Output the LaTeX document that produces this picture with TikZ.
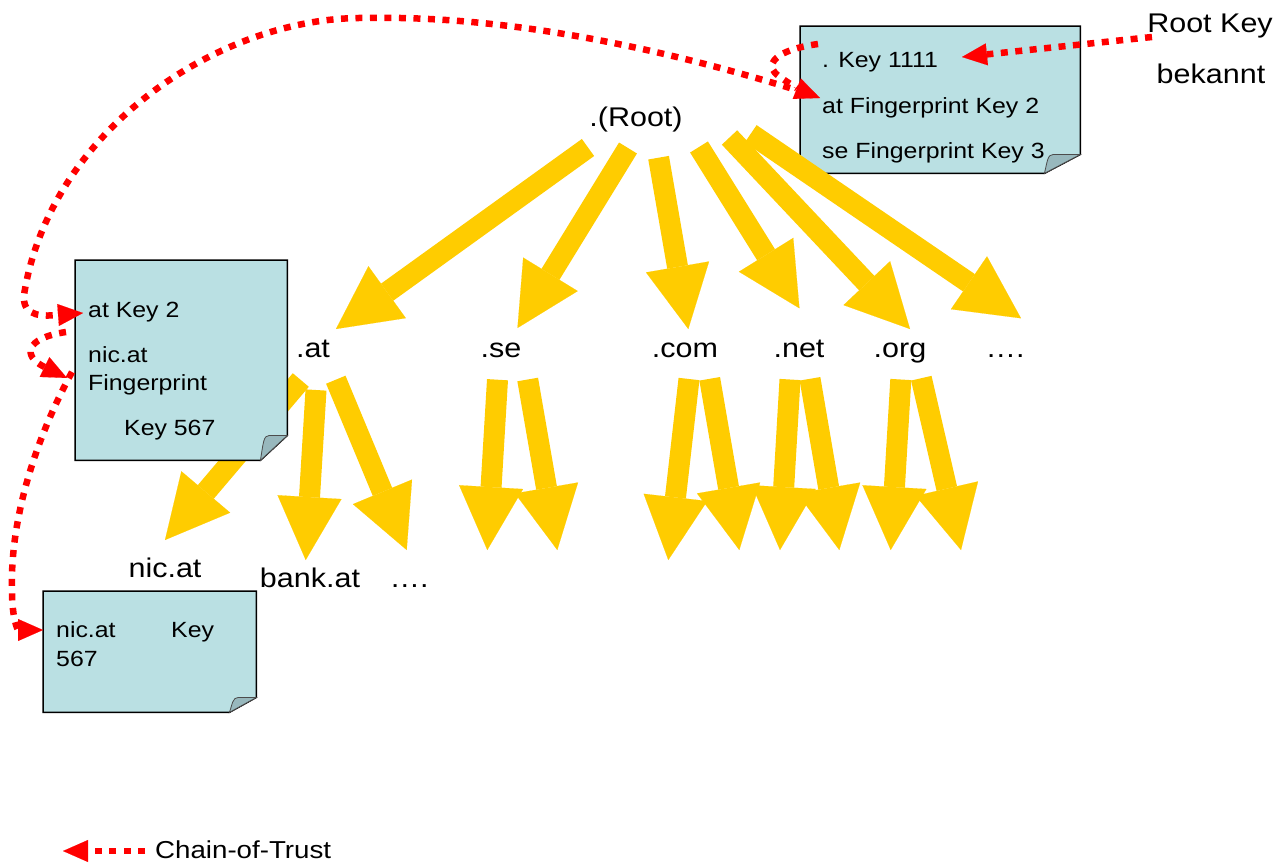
\documentclass[tikz,border=0pt]{standalone}
\usepackage{fontspec}
\setmainfont{Liberation Sans}[FakeStretch=1.13]
\usetikzlibrary{arrows.meta}
\definecolor{notefill}{HTML}{BAE0E3}
\definecolor{foldfill}{HTML}{98B8BD}
\definecolor{ygold}{HTML}{FFCC00}
\definecolor{cred}{HTML}{FF0000}
\newcommand{\notepaper}[3]{%
  \draw[noteshape] (#1.north west) -- (#1.north east) -- ([yshift=#3pt]#1.south east)
    -- ([xshift=-#2pt]#1.south east) -- (#1.south west) -- cycle;
  \draw[foldshape] ([xshift=-#2pt]#1.south east)
    .. controls ([xshift=-#2pt+3pt,yshift=#3pt-7pt]#1.south east) and ([xshift=-#2pt+3pt,yshift=#3pt]#1.south east)
    .. ([xshift=-#2pt+9pt,yshift=#3pt]#1.south east) -- ([yshift=#3pt]#1.south east) -- cycle;
}
\begin{document}
\begin{tikzpicture}[x=1pt,y=-1pt,
  big/.style={font=\fontsize{27}{32}\selectfont, inner sep=0pt, anchor=base},
  small/.style={font=\fontsize{22}{28}\selectfont, inner sep=0pt, anchor=base west},
  legendtxt/.style={font=\fontsize{24.5}{29}\selectfont, inner sep=0pt, anchor=base west},
  notearea/.style={inner sep=0pt, anchor=north west},
  noteshape/.style={fill=notefill, draw=black, line width=1.5pt, line join=miter},
  foldshape/.style={fill=foldfill, draw=black!70, line width=0.8pt},
  yarrow/.style={draw=ygold, line width=21pt, -{Triangle[length=63pt,width=64pt,line width=0.1pt]}},
  chain/.style={draw=cred, line width=6.5pt, dash pattern=on 7pt off 7.5pt, -{Triangle[length=25pt,width=22pt,line width=0.1pt]}},
]
\useasboundingbox[fill=white] (0,0) rectangle (1288,865);

% top-right note
\node[notearea, minimum width=280pt, minimum height=147pt] (box1) at (800,26) {};
\notepaper{box1}{36}{19}

% labels
\node[big] (root) at (636,126) {.(Root)};
\node[big] (rootkey) at (1210,32) {Root Key};
\node[big] (bekannt) at (1211,83) {bekannt};
\node[big] (at) at (313,357) {.at};
\node[big] (se) at (501,357) {.se};
\node[big] (com) at (685,357) {.com};
\node[big] (net) at (799,357) {.net};
\node[big] (org) at (900,357) {.org};
\node[big] (tlddots) at (1005,357) {….};
\node[big] (nicat) at (165,577) {nic.at};
\node[big] (bankat) at (310,587) {bank.at};
\node[big] (atdots) at (409,587) {….};

% yellow arrows: root level
\coordinate (s1) at (588,147.5);   \coordinate (t1) at (336,329);
\coordinate (s2) at (628,148);     \coordinate (t2) at (517.5,328);
\coordinate (s3) at (658.6,157.7); \coordinate (t3) at (688.3,329);
\coordinate (s4) at (699,147);     \coordinate (t4) at (799.4,308.3);
\coordinate (s5) at (729.5,137.5); \coordinate (t5) at (910,329);
\coordinate (s6) at (750.7,133.8); \coordinate (t6) at (1021,318.3);
\foreach \i in {1,...,6} \draw[yarrow] (s\i) -- (t\i);

% yellow arrows: second level
\coordinate (sb1) at (300.8,380); \coordinate (tb1) at (165,540);
\coordinate (sb2) at (316,390);   \coordinate (tb2) at (305.7,560);
\coordinate (sb3) at (335.8,379.7); \coordinate (tb3) at (406.7,550);
\coordinate (sc1) at (497.5,379.7); \coordinate (tc1) at (487.3,550);
\coordinate (sc2) at (527.7,379.5); \coordinate (tc2) at (557.3,550);
\coordinate (sd1) at (689,379);     \coordinate (td1) at (668.3,560);
\coordinate (sd2) at (709.7,378.8); \coordinate (td2) at (739.3,550);
\coordinate (se1) at (790,379.5);   \coordinate (te1) at (780,550);
\coordinate (se2) at (810,378.8);   \coordinate (te2) at (839.3,550);
\coordinate (sf1) at (900.8,379.5); \coordinate (tf1) at (890.7,550);
\coordinate (sf2) at (921.3,378.2); \coordinate (tf2) at (961,550);
\foreach \n in {b1,b2,b3,c1,c2,d1,d2,e1,e2,f1,f2} \draw[yarrow] (s\n) -- (t\n);

% left note and bottom note
\node[notearea, minimum width=212pt, minimum height=200pt] (box2) at (75,260) {};
\notepaper{box2}{27}{25}
\node[notearea, minimum width=213pt, minimum height=121pt] (box3) at (43,591) {};
\notepaper{box3}{27}{15}

% note texts
\node[small] (k1111) at (822,67) {. Key 1111};
\node[small] (atfp) at (822,113) {at Fingerprint Key 2};
\node[small] (sefp) at (822,158) {se Fingerprint Key 3};
\node[small] (atkey) at (88,317) {at Key 2};
\node[small] (nicfpa) at (88,362) {nic.at};
\node[small] (nicfpb) at (88,390) {Fingerprint};
\node[small] (nicfpc) at (124,435) {Key 567};
\node[small] (nickeya) at (56,637) {nic.at};
\node[small] (nickeyb) at (171,637) {Key};
\node[small] (nickeyc) at (56,666) {567};

% chain of trust
\coordinate (c1s) at (1152,37);  \coordinate (c1e) at (962,57);
\coordinate (c2s) at (818,44);   \coordinate (c2e) at (820,98);
\coordinate (c3s) at (790,88);   \coordinate (c3e) at (83,313);
\coordinate (c4s) at (66,332);   \coordinate (c4e) at (67,378);
\coordinate (c5s) at (72,372);   \coordinate (c5e) at (43,630);
\draw[chain] (c1s) -- (c1e);
\draw[chain] (c2s) .. controls (775,50) and (762,65) .. (780,77) .. controls (790,84) and (800,90) .. (c2e);
\draw[chain] (c3s) .. controls (600,30) and (460,16) .. (366,18) .. controls (220,16) and (50,130) .. (24,295) .. controls (22,318) and (45,316) .. (c3e);
\draw[chain] (c4s) .. controls (25,338) and (22,356) .. (c4e);
\draw[chain] (c5s) .. controls (35,440) and (10,520) .. (12,590) .. controls (12,620) and (18,630) .. (c5e);

% legend
\coordinate (ls) at (145,851); \coordinate (le) at (63,851);
\draw[chain] (ls) -- (le);
\node[legendtxt] (legend) at (155,858) {Chain-of-Trust};
\end{tikzpicture}
\end{document}
